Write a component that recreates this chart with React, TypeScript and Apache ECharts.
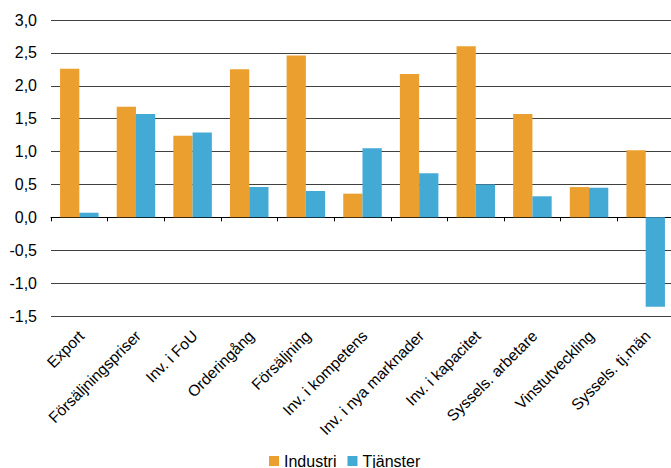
import React, { useEffect, useRef } from "react";
import * as echarts from "echarts";

const categories = [
  "Export",
  "Försäljningspriser",
  "Inv. i FoU",
  "Orderingång",
  "Försäljning",
  "Inv. i kompetens",
  "Inv. i nya marknader",
  "Inv. i kapacitet",
  "Syssels. arbetare",
  "Vinstutveckling",
  "Syssels. tj.män",
];
const industri = [2.26, 1.68, 1.24, 2.25, 2.46, 0.36, 2.18, 2.6, 1.57, 0.46, 1.02];
const tjanster = [0.07, 1.57, 1.29, 0.46, 0.4, 1.05, 0.67, 0.5, 0.32, 0.45, -1.36];
const seriesNames = ["Industri", "Tjänster"];
const yMin = -1.5;
const yMax = 3;
const yStep = 0.5;

const FONT = "'Liberation Sans', Arial, sans-serif";

export default function App() {
  const ref = useRef<HTMLDivElement>(null);
  useEffect(() => {
    if (!ref.current) return;
    const chart = echarts.init(ref.current, undefined, { renderer: "svg" });
    chart.setOption({
      animation: false,
      textStyle: { fontFamily: FONT },
      grid: { left: 51, top: 20, right: -3, bottom: 152, containLabel: false, outerBoundsMode: "none" },
      legend: {
        data: seriesNames,
        left: 269,
        top: 453,
        padding: 0,
        itemWidth: 10,
        itemHeight: 10,
        itemGap: 11,
        icon: "rect",
        textStyle: { fontFamily: FONT, fontSize: 16, color: "#000" },
      },
      xAxis: {
        type: "category",
        data: categories,
        axisLine: { onZero: true, lineStyle: { color: "#000", width: 1 } },
        axisTick: { show: true, length: 4, lineStyle: { color: "#000" } },
        axisLabel: {
          rotate: 45,
          margin: 8,
          padding: [0, 5, 0, 0],
          interval: 0,
          align: "right",
          verticalAlign: "top",
          fontFamily: FONT,
          fontSize: 15.6,
          color: "#000",
        },
        splitLine: { show: false },
      },
      yAxis: {
        type: "value",
        min: yMin,
        max: yMax,
        interval: yStep,
        axisLine: { show: false },
        axisTick: { show: false },
        axisLabel: {
          margin: 14,
          fontFamily: FONT,
          fontSize: 16,
          color: "#000",
          formatter: (v: number) => v.toFixed(1).replace(".", ","),
        },
        splitLine: { lineStyle: { color: "#404040", width: 1 } },
      },
      series: [
        {
          name: seriesNames[0],
          type: "bar",
          data: industri,
          barGap: "0%",
          barCategoryGap: "32%",
          itemStyle: { color: "#EB9F2F" },
        },
        {
          name: seriesNames[1],
          type: "bar",
          data: tjanster,
          barGap: "0%",
          barCategoryGap: "32%",
          itemStyle: { color: "#42AAD5" },
        },
      ],
    });
    return () => chart.dispose();
  }, []);
  return (
    <div
      ref={ref}
      style={{ position: "absolute", left: 0, top: 0, width: 671, height: 468 }}
    />
  );
}
